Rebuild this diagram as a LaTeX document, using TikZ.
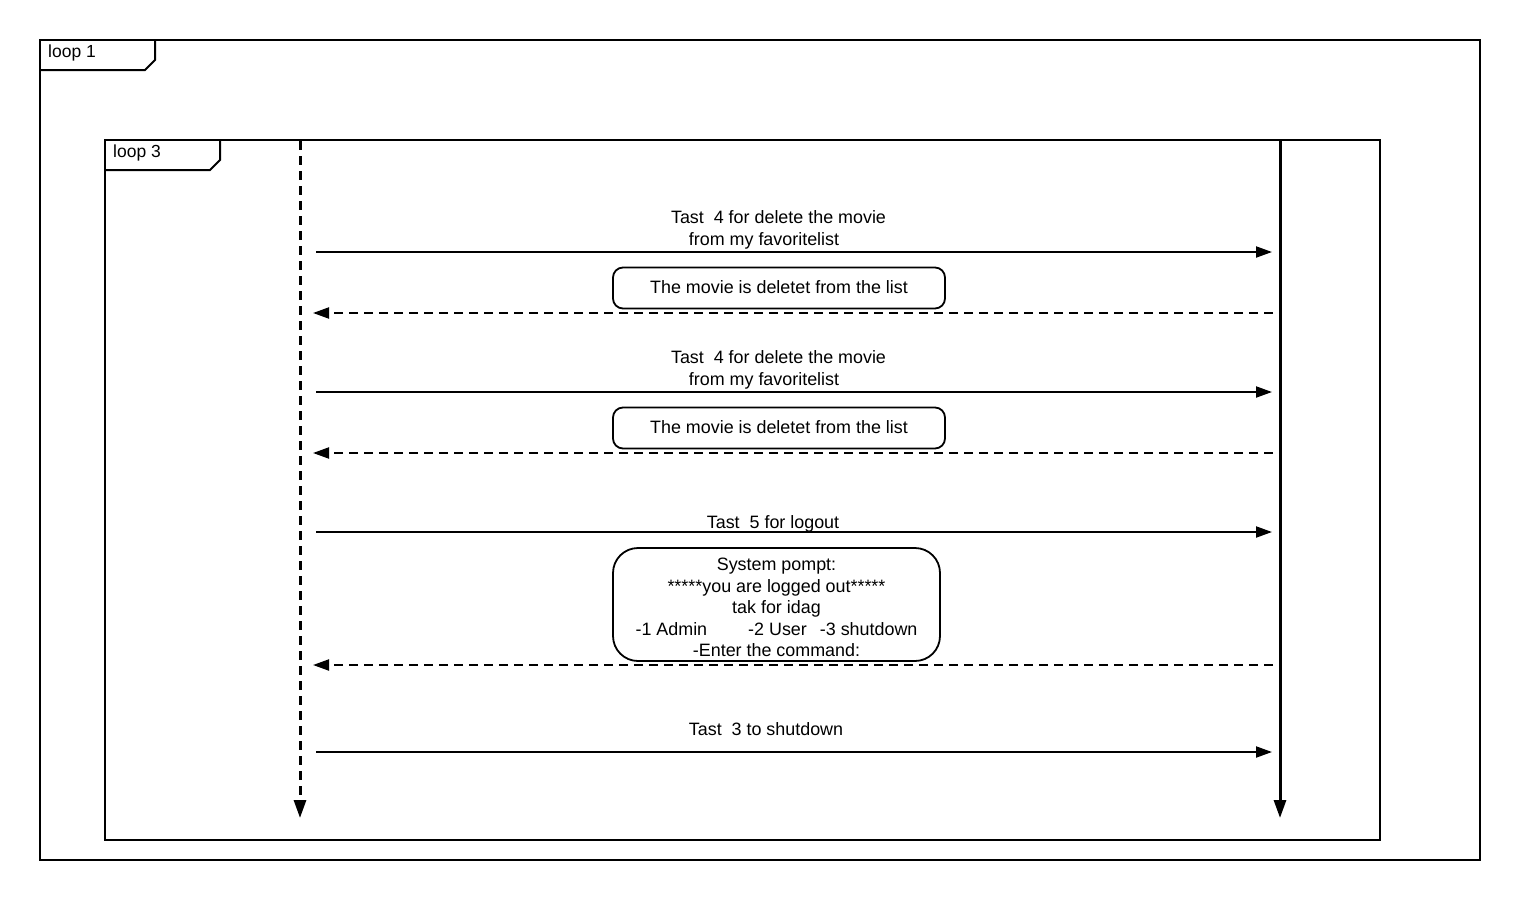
\documentclass[tikz,border=0pt]{standalone}
\usepackage{fontspec}
\setmainfont{Liberation Sans}
\usetikzlibrary{arrows.meta}
\begin{document}
\begin{tikzpicture}[x=1pt,y=-1pt,
  frame/.style={line width=2pt},
  tab/.style={line width=2pt},
  lbl/.style={font=\fontsize{17.5}{21}\selectfont, anchor=west, inner sep=0},
  msgtxt/.style={font=\fontsize{17.9}{21.5}\selectfont, align=center, inner sep=0},
  note/.style={draw, line width=1.8pt, rounded corners=10pt},
  call/.style={line width=2pt, -{Triangle[length=16pt,width=11pt]}},
  reply/.style={line width=2pt, dash pattern=on 9pt off 6pt, -{Triangle[length=16pt,width=11pt]}},
  life/.style={line width=3pt, -{Triangle[length=18pt,width=12pt]}},
  lifed/.style={line width=3pt, dash pattern=on 9pt off 6pt, -{Triangle[length=18pt,width=12pt]}}]
\useasboundingbox (0,0) rectangle (1520,900);
% outer frame
\draw[frame] (40,40) rectangle (1480,860);
\draw[tab] (40,70) -- (145,70) -- (155,60) -- (155,40);
\node[lbl] (l1) at (48,53) {loop 1};
% inner frame
\draw[frame] (105,140) rectangle (1380,840);
\draw[tab] (105,170) -- (210,170) -- (220,160) -- (220,140);
\node[lbl] (l3) at (113,153) {loop 3};
% lifelines
\coordinate (Lt) at (300,141);
\coordinate (Lb) at (300,818);
\coordinate (Rt) at (1280,141);
\coordinate (Rb) at (1280,818);
\draw[lifed] (Lt) -- (Lb);
\draw[life] (Rt) -- (Rb);
% message endpoints
\foreach \n/\y in {a/252,c/392,e/532,g/752}{
  \coordinate (L\n) at (316,\y);
  \coordinate (R\n) at (1272,\y);
}
\foreach \n/\y in {b/313,d/453,f/665}{
  \coordinate (L\n) at (313,\y);
  \coordinate (R\n) at (1273,\y);
}
% messages
\draw[call] (La) -- (Ra);
\node[msgtxt] (ma) at (778.5,230) {Tast\ \ 4 for delete the movie\\ from my favoritelist\hspace*{29pt}};
\draw[reply] (Rb) -- (Lb);
\node[note, minimum width=332pt, minimum height=41pt] (nb) at (779,288) {};
\node[msgtxt] (tb) at (779,287) {The movie is deletet from the list};

\draw[call] (Lc) -- (Rc);
\node[msgtxt] (mc) at (778.5,370) {Tast\ \ 4 for delete the movie\\ from my favoritelist\hspace*{29pt}};
\draw[reply] (Rd) -- (Ld);
\node[note, minimum width=332pt, minimum height=41pt] (nd) at (779,428) {};
\node[msgtxt] (td) at (779,427) {The movie is deletet from the list};

\draw[call] (Le) -- (Re);
\node[msgtxt] (me) at (773,524) {Tast\ \ 5 for logout};
\draw[reply] (Rf) -- (Lf);
\node[draw, line width=1.8pt, rounded corners=25pt, minimum width=327pt, minimum height=113pt] (nf) at (776.5,604.5) {};
\node[msgtxt] (tf) at (776.5,607.5) {System pompt:\\*****you are logged out*****\\tak for idag\\-1 Admin\hspace{41pt}-2 User\hspace{13pt}-3 shutdown\\-Enter the command:};

\draw[call] (Lg) -- (Rg);
\node[msgtxt] (mg) at (766,729) {Tast\ \ 3 to shutdown};
\end{tikzpicture}
\end{document}
